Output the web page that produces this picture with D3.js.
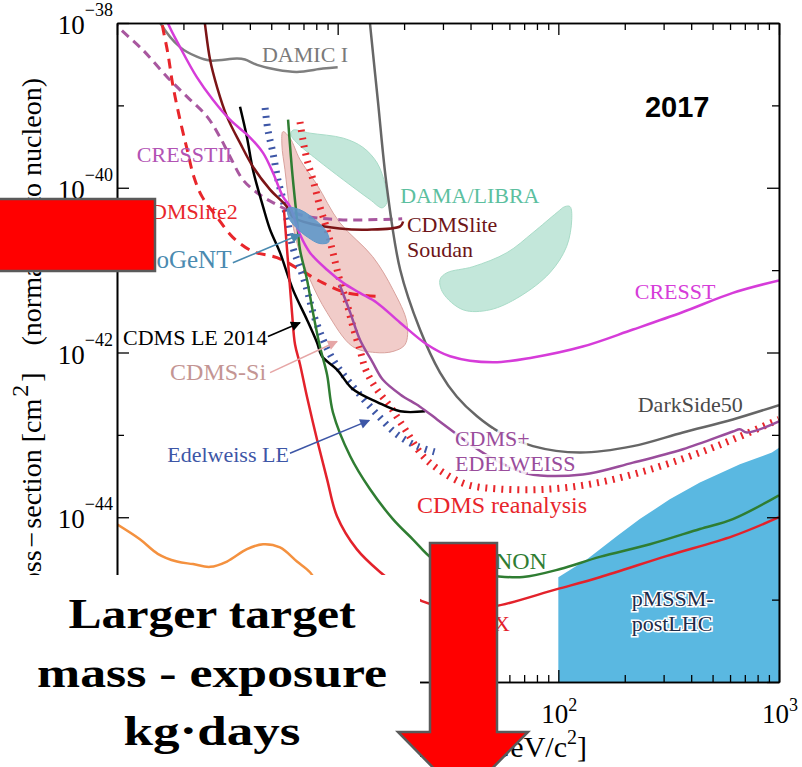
<!DOCTYPE html>
<html><head><meta charset="utf-8">
<script src="https://cdn.jsdelivr.net/npm/d3@7"></script>
<style>
body{margin:0;background:#fff;}
svg{display:block;}
</style></head><body>
<svg id="c" width="802" height="767" font-family="Liberation Serif, Times New Roman, serif"></svg>
<script>
// ---------------- DATA (WIMP mass [GeV/c^2], cross-section [cm^2]) ----------------
const damicI = [[1.45,1.6e-38],[1.57,1e-38],[1.93,5.1e-39],[2.30,3.9e-39],[2.64,3.5e-39],[3.50,3.7e-39],[3.80,3.6e-39],[4.31,3.1e-39],[5.31,2.7e-39],[6.54,2.55e-39],[8.58,2.8e-39],[10.0,2.9e-39]];
const darkSide50 = [[13.8,1.6e-38],[14.0,1e-38],[15.2,1.17e-39],[16.7,1.03e-40],[19.2,1.01e-41],[23.6,1.9e-42],[29.1,5.7e-43],[34.7,2.9e-43],[42.8,1.68e-43],[54.4,1.07e-43],[76.7,7.3e-44],[125,6.1e-44],[218,7.3e-44],[367,1.07e-43],[618,1.54e-43],[1000,2.3e-43]];
const cresst = [[1.62,1.5e-38],[1.70,1e-38],[1.93,5.1e-39],[2.30,2.2e-39],[2.72,1.17e-39],[3.25,6.7e-40],[4.0,4.1e-40],[4.59,2.65e-40],[5.09,1.52e-40],[5.65,7.8e-41],[6.08,5.9e-41],[6.75,2.7e-41],[7.49,1.63e-41],[8.95,1.01e-41],[10.6,7.0e-42],[12.6,5.3e-42],[15.1,4.0e-42],[19.2,2.3e-42],[25.4,1.25e-42],[32.3,9.0e-43],[50.6,7.6e-43],[76.7,8.7e-43],[129,1.18e-42],[218,1.9e-42],[367,3.1e-42],[618,5.3e-42],[1000,7.5e-42]];
const cresstII = [[0.95,1.1e-38],[1.01,9.0e-39],[1.31,4.7e-39],[1.69,2.2e-39],[2.08,1.27e-39],[2.56,7.3e-40],[2.93,4.1e-40],[3.25,2.4e-40],[3.72,1.25e-40],[4.31,8.7e-41],[5.09,6.6e-41],[6.75,4.7e-41],[10.2,4.1e-41],[19.6,4.2e-41]];
const cdmsliteSoudan = [[2.45,1.5e-38],[2.50,1e-38],[2.64,3.6e-39],[2.84,1.67e-39],[3.15,7.3e-40],[3.61,3.5e-40],[4.13,1.8e-40],[4.94,9.5e-41],[5.89,5.9e-41],[6.27,4.4e-41],[7.73,3.6e-41],[10.2,3.2e-41],[13.6,3.1e-41],[19.2,3.4e-41],[19.8,3.9e-41]];
const cdmslite2 = [[1.58,1.5e-38],[1.60,1e-38],[1.70,4.3e-39],[1.79,1.77e-39],[1.93,6.7e-40],[2.08,2.9e-40],[2.23,1.36e-40],[2.43,7.8e-41],[2.84,4.4e-41],[3.35,2.5e-41],[4.13,1.68e-41],[5.31,1.42e-41],[6.75,1.01e-41],[8.58,7.0e-42],[11.0,5.3e-42],[15.1,4.8e-42]];
const lux = [[5.71,5.4e-41],[5.96,1.23e-41],[6.21,3.05e-42],[6.41,1.25e-42],[6.75,7.2e-43],[7.26,2.9e-43],[8.06,8.8e-44],[8.95,2.9e-44],[9.93,1.03e-44],[12.2,4.1e-45],[15.6,2.15e-45],[19.2,1.42e-45],[24.1,9.6e-46],[35.8,7.7e-46],[51.6,8.3e-46],[98.6,1.34e-45],[154,1.87e-45],[311,3.4e-45],[618,5.9e-45],[1000,1.0e-44]];
const xenon = [[5.96,6.7e-40],[6.21,1.65e-40],[6.54,4.1e-41],[6.75,1.77e-41],[7.26,7.7e-42],[7.73,3.05e-42],[8.31,1.18e-42],[8.95,5.4e-43],[9.52,1.87e-43],[11.4,5.5e-44],[14.0,2.2e-44],[17.8,9.5e-45],[21.9,5.4e-45],[27.0,3.1e-45],[35.8,2.2e-45],[51.6,1.93e-45],[69.2,1.88e-45],[102,2.35e-45],[154,3.3e-45],[260,4.7e-45],[438,7.2e-45],[618,9.5e-45],[1000,1.85e-44]];
const cdmsLE2014 = [[3.61,9.6e-40],[3.88,4.1e-40],[4.13,1.65e-40],[4.59,5.9e-41],[4.94,3.1e-41],[5.48,1.63e-41],[6.27,5.8e-42],[7.26,2.5e-42],[8.06,1.32e-42],[8.49,9.0e-43],[9.93,6.2e-43],[11.7,3.6e-43],[15.1,2.5e-43],[19.2,1.93e-43],[24.9,1.93e-43]];
const edelweissLE = [[4.69,9.3e-40],[4.83,5.0e-40],[5.09,2.65e-40],[5.36,1.25e-40],[5.65,7.2e-41],[5.96,3.6e-41],[6.27,1.87e-41],[6.75,1.07e-41],[7.26,5.8e-42],[7.73,3.05e-42],[8.58,1.44e-42],[9.52,8.2e-43],[10.6,5.4e-43],[12.2,3.4e-43],[15.1,1.77e-43],[18.6,1.01e-43],[22.9,7.3e-44],[28.2,6.1e-44]];
const cdmsReanalysis = [[6.75,6.3e-40],[6.96,3.8e-40],[7.26,2.2e-40],[7.73,1.25e-40],[8.31,5.9e-41],[8.95,3.1e-41],[9.52,1.63e-41],[10.2,7.7e-42],[11.0,4.0e-42],[11.7,2.1e-42],[12.6,1.09e-42],[13.4,6.2e-43],[14.8,3.8e-43],[17.3,2.2e-43],[20.2,1.17e-43],[24.4,5.5e-44],[30.0,3.5e-44],[38.5,2.5e-44],[54.4,2.2e-44],[91.6,2.2e-44],[154,2.65e-44],[260,3.8e-44],[438,6.1e-44],[618,8.8e-44],[1000,1.54e-43]];
const cdmsEdelweiss = [[10.2,6.7e-42],[11.4,3.05e-42],[12.6,1.44e-42],[14.4,7.6e-43],[16.0,4.7e-43],[19.2,3.1e-43],[23.6,2.2e-43],[28.2,1.54e-43],[32.3,1.17e-43],[39.8,7.7e-44],[51.6,5.0e-44],[72.1,3.4e-44],[129,3.3e-44],[218,4.6e-44],[367,6.7e-44],[618,1.1e-43],[665,1.17e-43],[716,1.07e-43],[1000,1.46e-43]];
const orangeCurve = [[1.0,8.2e-45],[1.27,5.4e-45],[1.53,3.6e-45],[1.87,2.9e-45],[2.21,2.7e-45],[2.64,2.5e-45],[3.15,2.9e-45],[3.88,4.1e-45],[4.59,4.7e-45],[5.48,4.3e-45],[6.54,2.9e-45],[7.49,2.15e-45],[8.31,1.4e-45]];
// regions
const damaLow = [[6.27,5.0e-40],[7.49,4.6e-40],[10.6,4.0e-40],[13.0,3.1e-40],[15.1,2.0e-40],[16.4,1.09e-40],[16.7,6.6e-41],[15.9,5.7e-41],[14.0,7.2e-41],[10.6,1.25e-40],[8.06,2.2e-40],[6.54,3.5e-40],[6.14,4.4e-40]];
const damaHigh = [[113,5.9e-41],[115,4.1e-41],[109,1.93e-41],[91.6,9.3e-42],[67.0,4.8e-42],[49.0,3.3e-42],[37.0,3.3e-42],[30.0,5.3e-42],[29.1,7.7e-42],[31.3,9.3e-42],[41.0,1.1e-41],[58.5,1.63e-41],[76.7,2.85e-41],[98.6,5.0e-41],[107,5.9e-41]];
const cdmsSi = [[5.65,4.8e-40],[6.08,4.0e-40],[6.75,2.2e-40],[8.06,1.09e-40],[10.2,3.8e-41],[14.4,1.46e-41],[17.8,5.8e-42],[20.6,2.3e-42],[20.2,1.25e-42],[17.8,1.03e-42],[14.8,1.0e-42],[11.7,1.18e-42],[8.95,3.05e-42],[7.49,7.7e-42],[6.61,1.93e-41],[6.08,5.4e-41],[5.77,1.65e-40],[5.59,3.3e-40]];
const cogent = [[5.96,5.7e-41],[6.75,5.4e-41],[7.89,4.1e-41],[8.95,2.85e-41],[9.12,2.2e-41],[8.31,2.1e-41],[7.33,2.5e-41],[6.47,3.3e-41],[6.01,4.3e-41]];
const pmssm = [[100,1e-46],[100,1.87e-45],[135,3.1e-45],[184,5.9e-45],[234,9.5e-45],[320,1.65e-44],[438,2.65e-44],[665,4.4e-44],[929,6.1e-44],[1000,7.0e-44],[1000,1e-46]];
// ticks (labels only where the reference shows them)
const xMajorTicks = [1,10,100,1000];
const xMinorTicks = [2,3,4,5,6,7,8,9,20,30,40,50,60,70,80,90,200,300,400,500,600,700,800,900];
const xLabelTicks = [100,1000];
const xTickExps = ["2","3"];
const yMajorTicks = [1e-46,1e-44,1e-42,1e-40,1e-38];
const yMinorTicks = [1e-45,1e-43,1e-41,1e-39];
const yLabelTicks = [1e-44,1e-42,1e-40,1e-38];
const yTickExps = ["\u221244","\u221242","\u221240","\u221238"];
// labels: [lines, mass, sigma, anchor, colour, size, halo]
const labels = [
  [["DAMIC I"],4.54,3.4e-39,"start","#7a7a7a",22,0],
  [["CRESSTII"],1.23,2.07e-40,"start","#b253b4",22,0],
  [["CDMSlite2"],3.53,4.2e-41,"end","#e8262b",22,0],
  [["CoGeNT"],3.30,1.05e-41,"end","#4a8ab0",25,0],
  [["DAMA/LIBRA"],19.2,6.6e-41,"start","#5cbf9f",22,0],
  [["CDMSlite","Soudan"],20.6,2.9e-41,"start","#6e1518",22,0],
  [["CRESST"],222,4.4e-42,"start","#d63cd9",22,0],
  [["CDMS LE 2014"],1.065,1.25e-42,"start","#000000",22,0],
  [["CDMS-Si"],1.74,4.7e-43,"start","#c49593",24,0],
  [["DarkSide50"],229,1.87e-43,"start","#4a4a4a",22,0],
  [["Edelweiss LE"],1.69,4.65e-44,"start","#3d56a6",22,0],
  [["CDMS+","EDELWEISS"],34.0,7.3e-44,"start","#9a4d9c",22,1],
  [["CDMS reanalysis"],22.9,1.12e-44,"start","#e8262b",24,0],
  [["XENON"],88.8,2.35e-45,"end","#2f7d32",24,0],
  [["LUX"],60.4,4.15e-46,"end","#e3222b",22,0],
  [["pMSSM-","postLHC"],215,8.3e-46,"start","#1d2b48",22,2]
];
// arrows: [fromMass, fromSigma, toMass, toSigma, colour]
const arrows = [
  [4.83,1.56e-42,6.75,2.3e-42,"#000000"],
  [3.35,1.23e-41,6.75,2.7e-41,"#4a8ab0"],
  [4.94,5.7e-43,9.93,1.36e-42,"#e6a6a6"],
  [6.08,6.0e-44,13.9,1.5e-43,"#3d56a6"]
];

// ---------------- CHART ----------------
const svg = d3.select("#c");
const x = d3.scaleLog().domain([1,1000]).range([117,779]);
const y = d3.scaleLog().domain([1e-46,1e-38]).range([682,23]);
const line = d3.line().x(d=>x(d[0])).y(d=>y(d[1])).curve(d3.curveCatmullRom.alpha(0.5));
const closed = d3.line().x(d=>x(d[0])).y(d=>y(d[1])).curve(d3.curveCatmullRomClosed.alpha(0.5));
const poly = d3.line().x(d=>x(d[0])).y(d=>y(d[1])).curve(d3.curveLinearClosed);

const defs = svg.append("defs");
defs.append("clipPath").attr("id","clip").append("rect")
  .attr("x",x(1)).attr("y",y(1e-38)).attr("width",x(1000)-x(1)).attr("height",y(1e-46)-y(1e-38));
arrows.forEach((a,i)=>{
  defs.append("marker").attr("id","ah"+i).attr("viewBox","0 0 10 10").attr("refX",9).attr("refY",5)
    .attr("markerWidth",14).attr("markerHeight",10).attr("markerUnits","userSpaceOnUse").attr("orient","auto")
    .append("path").attr("d","M0,0 L10,5 L0,10 Z").attr("fill",a[4]);
});

const plot = svg.append("g").attr("clip-path","url(#clip)");
plot.append("path").attr("d",poly(pmssm)).attr("fill","#5ab8e1");
plot.append("path").attr("d",closed(damaLow)).attr("fill","#c3e7da").attr("stroke","#a9dcc8").attr("stroke-width",1);
plot.append("path").attr("d",closed(damaHigh)).attr("fill","#c3e7da").attr("stroke","#a9dcc8").attr("stroke-width",1);
plot.append("path").attr("d",closed(cdmsSi)).attr("fill","#efc3bf").attr("fill-opacity",0.85).attr("stroke","#d9a29d").attr("stroke-width",1);

function draw(data,color,w,dash){
  const p = plot.append("path").attr("d",line(data)).attr("fill","none").attr("stroke",color)
    .attr("stroke-width",w).attr("stroke-linejoin","round");
  if(dash) p.attr("stroke-dasharray",dash);
  return p;
}
draw(orangeCurve,"#f4913f",2.5);
draw(damicI,"#7f7f7f",2.5);
draw(cresstII,"#a8579f",3,"9 6");
draw(cdmslite2,"#e8262b",3,"10 7");
draw(edelweissLE,"#3d56a6",7,"2 6");
draw(cdmsReanalysis,"#e8262b",7,"2 6");
draw(darkSide50,"#666666",2.5);
draw(cdmsLE2014,"#000000",2.5);
draw(cdmsEdelweiss,"#9a4d9c",2.5);
draw(cdmsliteSoudan,"#7b1416",2.5);
draw(xenon,"#2f7d32",2.5);
draw(lux,"#e3222b",2.5);
draw(cresst,"#d63cd9",2.5);
plot.append("path").attr("d",closed(cogent)).attr("fill","#5f98c9").attr("fill-opacity",0.9).attr("stroke","#5f98c9").attr("stroke-width",1);

arrows.forEach((a,i)=>{
  svg.append("line").attr("x1",x(a[0])).attr("y1",y(a[1])).attr("x2",x(a[2])).attr("y2",y(a[3]))
    .attr("stroke",a[4]).attr("stroke-width",1.6).attr("marker-end","url(#ah"+i+")");
});

labels.forEach(l=>{
  const t = svg.append("text").attr("x",x(l[1])).attr("y",y(l[2])).attr("text-anchor",l[3])
    .attr("font-size",l[5]).attr("fill",l[4]);
  if(l[6]===1) t.attr("stroke","#fff").attr("stroke-width",6).attr("stroke-opacity",0.85).attr("paint-order","stroke");
  if(l[6]===2) t.attr("stroke","#fff").attr("stroke-width",3).attr("paint-order","stroke");
  l[0].forEach((s,i)=>{
    t.append("tspan").attr("x",x(l[1])).attr("dy",i===0?0:25).text(s);
  });
});
svg.append("text").attr("x",x(247)).attr("y",y(7.3e-40)).attr("font-family","Liberation Sans, Arial, sans-serif")
  .attr("font-weight","bold").attr("font-size",29).attr("fill","#000").text("2017");

// axes
const ax = svg.append("g");
function axis(gen,tr,vals,size){
  const g = ax.append("g").attr("transform",tr).call(gen.tickValues(vals).tickSize(-size).tickSizeOuter(0).tickFormat(""));
  g.select(".domain").attr("stroke","#000").attr("stroke-width",1.6);
  g.selectAll(".tick line").attr("stroke","#000").attr("stroke-width",1.3);
}
axis(d3.axisBottom(x),`translate(0,${y(1e-46)})`,xMajorTicks,12);
axis(d3.axisBottom(x),`translate(0,${y(1e-46)})`,xMinorTicks,7);
axis(d3.axisTop(x),`translate(0,${y(1e-38)})`,xMajorTicks,12);
axis(d3.axisTop(x),`translate(0,${y(1e-38)})`,xMinorTicks,7);
axis(d3.axisLeft(y),`translate(${x(1)},0)`,yMajorTicks,12);
axis(d3.axisLeft(y),`translate(${x(1)},0)`,yMinorTicks,7);
axis(d3.axisRight(y),`translate(${x(1000)},0)`,yMajorTicks,12);
axis(d3.axisRight(y),`translate(${x(1000)},0)`,yMinorTicks,7);
ax.selectAll("text").remove();

xLabelTicks.forEach((v,i)=>{
  const t = ax.append("text").attr("x",x(v)+1).attr("y",y(1e-46)+41).attr("text-anchor","middle").attr("font-size",27).attr("fill","#000").text("10");
  t.append("tspan").attr("font-size",18).attr("dy",-12).text(xTickExps[i]);
});
yLabelTicks.forEach((v,i)=>{
  const t = ax.append("text").attr("x",x(1)-4).attr("y",y(v)+11).attr("text-anchor","end").attr("font-size",27).attr("fill","#000").text("10");
  t.append("tspan").attr("font-size",18).attr("dy",-18).text(yTickExps[i]);
});
const xt = ax.append("text").attr("x",587).attr("y",757).attr("text-anchor","end").attr("font-size",30).attr("fill","#000").text("WIMP mass [GeV/c");
xt.append("tspan").attr("font-size",20).attr("dy",-13).text("2");
xt.append("tspan").attr("dy",13).text("]");
const yt = ax.append("text").attr("transform","translate(41,78) rotate(-90)").attr("text-anchor","end").attr("font-size",28).attr("fill","#000")
  .text("Cross");
yt.append("tspan").attr("dx",3).text("\u2212");
yt.append("tspan").attr("dx",3).text("section [cm");
yt.append("tspan").attr("font-size",24).attr("dx",2).attr("dy",-13).text("2");
yt.append("tspan").attr("dx",3).attr("dy",13).text("]");
yt.append("tspan").attr("dx",20).text(" (normalised to nucleon)");

// ---------------- overlay annotations ----------------
svg.append("rect").attr("x",0).attr("y",575).attr("width",420).attr("height",192).attr("fill","#fff");
const big = svg.append("g").attr("font-family","Liberation Serif, serif").attr("font-weight","bold").attr("fill","#000").attr("font-size",42);
[["Larger target",212,628,287],["mass - exposure",212,687,350],["kg\u00b7days",212,745,177]].forEach(t=>{
  big.append("text").attr("x",t[1]).attr("y",t[2]).attr("text-anchor","middle")
    .attr("textLength",t[3]).attr("lengthAdjust","spacingAndGlyphs").text(t[0]);
});
svg.append("path").attr("d","M430,543 L497,543 L497,732 L528,732 L463,798 L398,732 L430,732 Z")
  .attr("fill","#ff0000").attr("stroke","#5a5a5a").attr("stroke-width",2.5);
svg.append("rect").attr("x",-5).attr("y",199).attr("width",160).attr("height",72)
  .attr("fill","#ff0000").attr("stroke","#5a5a5a").attr("stroke-width",2.5);
</script>
</body></html>
